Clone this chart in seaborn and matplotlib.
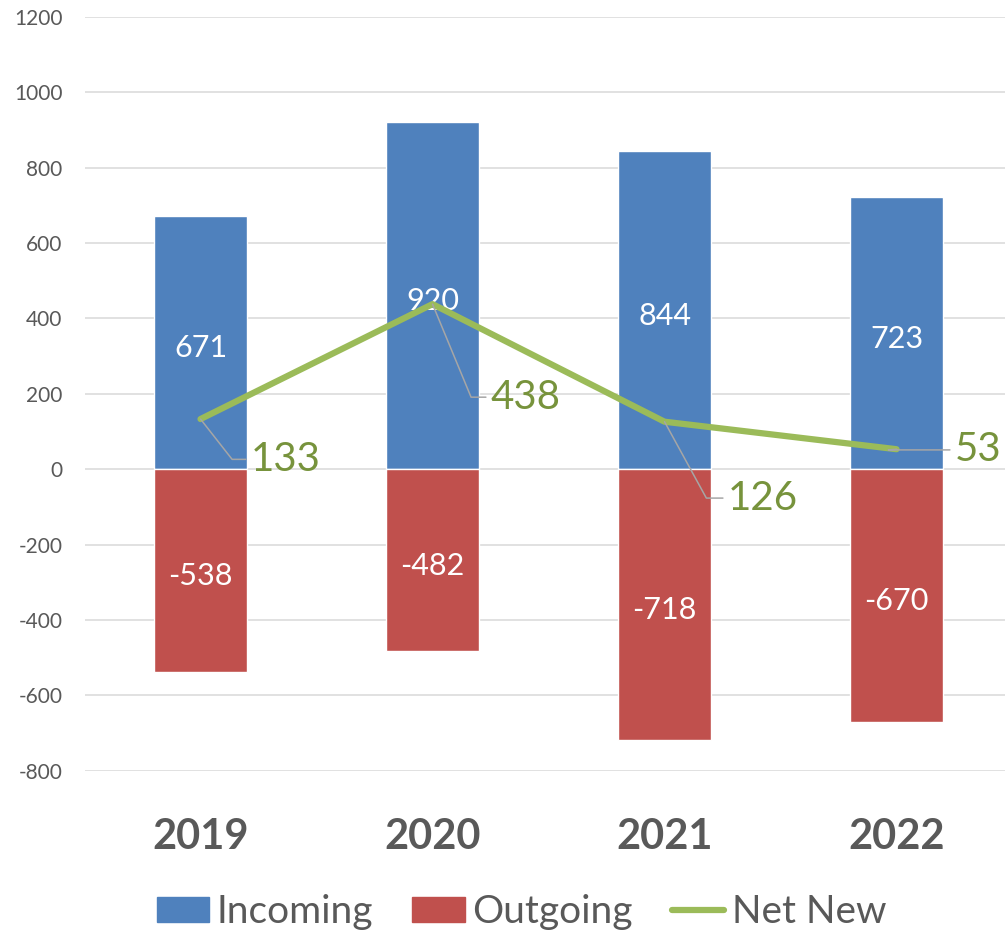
import pandas as pd
import seaborn as sns
import matplotlib.pyplot as plt
import numpy as np
from matplotlib.patches import Patch
from matplotlib.lines import Line2D

# chart data
years = ['2019', '2020', '2021', '2022']
incoming = [671, 920, 844, 723]
outgoing = [-538, -482, -718, -670]
net_new = [133, 438, 126, 53]

# label placement for the Net New values (offset points, leader angle)
net_offsets = [(36, -29), (41.8, -67), (45.4, -55), (41.8, -0.5)]
leader_angles = [-51.9, -67.5, -61.3, 4.8]

blue, red, green = '#4F81BD', '#C0504D', '#9BBB59'
text_grey = '#595959'

sns.set_theme(style='white')
plt.rcParams['font.family'] = ['Lato', 'DejaVu Sans']
plt.rcParams['axes.unicode_minus'] = False

df = pd.DataFrame({
    'Year': years * 2,
    'Value': incoming + outgoing,
    'Series': ['Incoming'] * len(years) + ['Outgoing'] * len(years),
})

fig = plt.figure(figsize=(10.05, 9.32), dpi=100)
ax = fig.add_axes([0.0841, 0.1731, 0.9234, 0.8087])

# bars (positive and negative share the same slot)
sns.barplot(data=df, x='Year', y='Value', hue='Series', dodge=False,
            palette={'Incoming': blue, 'Outgoing': red}, width=0.4,
            saturation=1, errorbar=None, legend=False, ax=ax, zorder=2)

# value labels in the middle of each bar
for cont in ax.containers:
    for bar in cont:
        h = bar.get_height()
        ax.annotate(f'{h:.0f}', xy=(bar.get_x() + bar.get_width() / 2, h / 2),
                    xytext=(0, -4), textcoords='offset points',
                    ha='center', va='center', color='white', fontsize=22)

# Net New line
sns.lineplot(x=np.arange(len(years)), y=net_new, color=green, lw=4.5,
             solid_capstyle='round', ax=ax, zorder=3)

for i, v in enumerate(net_new):
    dx, dy = net_offsets[i]
    ax.annotate(str(v), xy=(i, v), xytext=(dx, dy), textcoords='offset points',
                ha='left', va='center', fontsize=29, color='#77933C',
                arrowprops=dict(arrowstyle='-', color='#A6A6A6', lw=1.1,
                                relpos=(0, 0.5), shrinkA=1, shrinkB=0,
                                connectionstyle=f'angle,angleA=0,angleB={leader_angles[i]},rad=0'))

# axes styling
ax.set_xlim(-0.5, len(years) - 0.5)
ax.set_ylim(-800, 1200)
ax.set_yticks(np.arange(-800, 1201, 200))
ax.yaxis.grid(True, color='#D9D9D9', lw=1.1)
ax.set_axisbelow(True)
sns.despine(ax=ax, left=True, bottom=True)
ax.set_xlabel('')
ax.set_ylabel('')
ax.tick_params(axis='y', length=0, pad=16, labelsize=15, labelcolor=text_grey)
ax.tick_params(axis='x', length=0, pad=34, labelsize=30, labelcolor=text_grey)
for t in ax.get_xticklabels():
    t.set_fontweight('bold')

handles = [Patch(color=blue), Patch(color=red),
           Line2D([], [], color=green, lw=4.5, solid_capstyle='round')]
fig.legend(handles, ['Incoming', 'Outgoing', 'Net New'], loc='center',
           bbox_to_anchor=(0.519, 0.021), ncol=3, frameon=False, fontsize=28,
           labelcolor=text_grey, handlelength=1.35, handleheight=0.6,
           handletextpad=0.2, columnspacing=1.0, borderpad=0)

fig.savefig('out.png', dpi=100)
